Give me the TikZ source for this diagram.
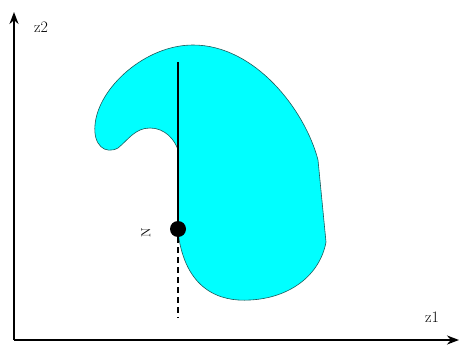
\documentclass[tikz,border=0pt]{standalone}
\usepackage{tikz}
\usetikzlibrary{arrows.meta,positioning}
\definecolor{aqua}{RGB}{0,255,255}
\definecolor{edge}{RGB}{30,90,90}
\begin{document}
\begin{tikzpicture}[x=1pt,y=-1pt,>=Stealth,
 axis/.style={line width=2pt,->},
 region/.style={draw=edge,fill=aqua,line width=0.6pt},
 dot/.style={circle,fill=black,inner sep=0pt,minimum size=16pt},
 lbl/.style={font=\fontsize{16}{18}\selectfont}]
\useasboundingbox (0,0) rectangle (460,345);
\coordinate (o) at (14,340);
\coordinate (ytop) at (14,12);
\coordinate (xend) at (459,340);
\draw[axis] (o)--(ytop);
\draw[axis] (o)--(xend);
\node[lbl] (z2) at (41,27) {z2};
\node[lbl] (z1) at (432,317) {z1};
\draw[region] (178,150) -- (178,232)
 .. controls (185,290) and (220,302) .. (250,300)
 .. controls (290,298) and (320,275) .. (326,242)
 -- (318,160)
 .. controls (305,110) and (255,45) .. (193,45)
 .. controls (145,45) and (98,88) .. (95,125)
 .. controls (93,145) and (105,155) .. (118,148)
 .. controls (128,140) and (135,128) .. (150,128)
 .. controls (165,128) and (175,140) .. (178,150) -- cycle;
\node[dot] (n) at (178,229) {};
\node[rotate=90,lbl,font=\fontsize{13}{15}\selectfont] (nlbl) at (146,233) {N};
\coordinate (ltop) at (178,62);
\coordinate (lbot) at (178,318);
\draw[line width=2pt] (ltop)--(n);
\draw[line width=2pt,dash pattern=on 6pt off 4pt] (n)--(lbot);
\end{tikzpicture}
\end{document}
